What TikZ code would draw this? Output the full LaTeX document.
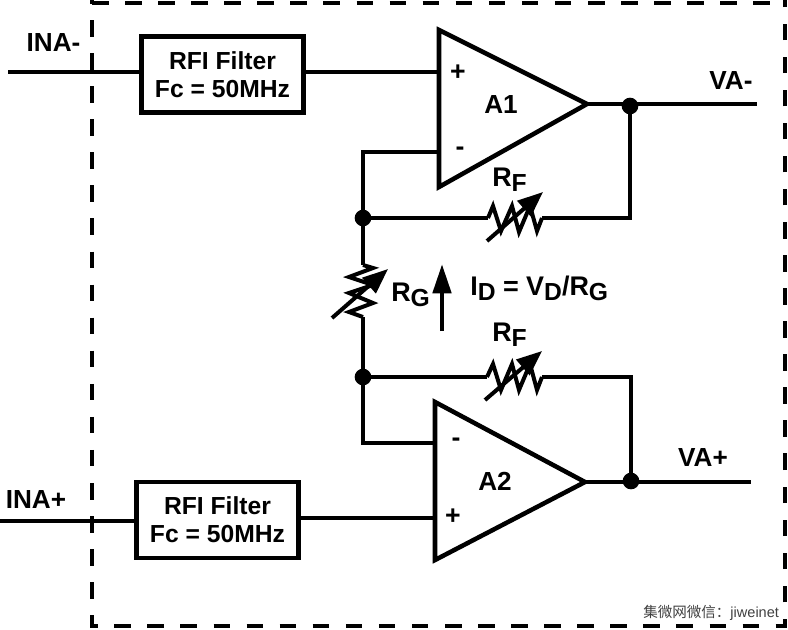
\documentclass[tikz,border=0pt]{standalone}
\usepackage{fontspec}
\setmainfont{Liberation Sans}
\newfontfamily\cjkwm{Noto Sans CJK SC}
\usetikzlibrary{arrows.meta}
\newcommand{\lowsub}[1]{\raisebox{-3.8pt}{\fontsize{18.5}{18}\selectfont #1}}
\tikzset{
  x=0.75pt,y=-0.75pt,
  wire/.style={line width=3.1pt,line cap=butt,line join=miter},
  frame/.style={line width=3.6pt,dash pattern=on 12.4pt off 12.4pt},
  filterbox/.style={draw,line width=3.6pt,minimum width=121pt,minimum height=57pt,inner sep=0pt,align=center,font=\bfseries\fontsize{18.5}{21}\selectfont},
  amp/.style={line width=3.4pt,line join=miter},
  lab/.style={inner sep=0pt,font=\bfseries\fontsize{19.6}{24}\selectfont},
  sublab/.style={inner sep=0pt,font=\bfseries\fontsize{20.2}{24}\selectfont},
  sgn/.style={inner sep=0pt,font=\bfseries\fontsize{20}{20}\selectfont},
  junction/.style={circle,fill=black,minimum size=12.5pt,inner sep=0pt,outer sep=0pt},
  resz/.style={line width=3pt,line join=miter},
  trim/.style={line width=3pt,-{Triangle[length=19pt,width=15pt]}},
  idarrow/.style={line width=3.6pt,-{Triangle[length=22pt,width=13.5pt]}}
}
\begin{document}
\begin{tikzpicture}
\useasboundingbox (0,0) rectangle (788,629);
\fill[white] (0,0) rectangle (788,629);
% frame
\draw[frame] (92,-13) -- (92,626) -- (785,626) -- (785,-13);
\draw[frame] (92,3) -- (785,3);
% filter boxes
\node[filterbox] (f1) at (222.5,74.5) {RFI Filter\\Fc = 50MHz};
\node[filterbox] (f2) at (217.5,520) {RFI Filter\\Fc = 50MHz};
% amplifiers
\coordinate (a1t) at (439,30); \coordinate (a1b) at (439,187); \coordinate (a1o) at (587,104);
\coordinate (a2t) at (435,402); \coordinate (a2b) at (435,560); \coordinate (a2o) at (585,482);
\draw[amp] (a1t) -- (a1o) -- (a1b) -- cycle;
\draw[amp] (a2t) -- (a2o) -- (a2b) -- cycle;
\node[lab] (A1) at (501,105) {A1};
\node[lab] (A2) at (495,481) {A2};
\node[sgn] (p1) at (458,73) {+};
\node[sgn] (m1) at (460,151) {-};
\node[sgn] (m2) at (456,442) {-};
\node[sgn] (p2) at (453,517) {+};
% junctions
\node[junction] (j1) at (630,106) {};
\node[junction] (j2) at (363,218) {};
\node[junction] (j3) at (363,377) {};
\node[junction] (j4) at (631,481) {};
% free ends
\coordinate (ina1) at (8,72);
\coordinate (ina2) at (0,521);
\coordinate (vam) at (757,104);
\coordinate (vap) at (751,482);
\coordinate (i1p) at (439,72);
\coordinate (i1m) at (439,152);
\coordinate (i2m) at (435,443);
\coordinate (i2p) at (435,518);
% wires
\draw[wire] (ina1) -- (ina1 -| f1.west);
\draw[wire] (ina2) -- (ina2 -| f2.west);
\draw[wire] (i1p -| f1.east) -- (i1p);
\draw[wire] (i2p -| f2.east) -- (i2p);
\draw[wire] (a1o) -- (vam);
\draw[wire] (a2o) -- (vap);
\draw[wire] (i1m) -- (i1m -| j2) -- (j2);
\draw[wire] (i2m) -- (i2m -| j3) -- (j3);
\draw[wire] (j2) -- (488,218);
\draw[wire] (j3) -- (487,377);
\draw[wire] (j2) -- (363,265);
\draw[wire] (j3) -- (363,317);
\draw[wire] (j1) -- (630,218) -- (542,218);
\draw[wire] (j4) -- (631,377) -- (542,377);
% resistors
\draw[resz] (488,218) -- (493,206) -- (501,231) -- (512,206) -- (519,232) -- (530,206) -- (537,231) -- (542,218);
\draw[resz] (487,377) -- (493,364) -- (501,390) -- (512,364) -- (519,390) -- (530,364) -- (537,390) -- (542,377);
\draw[resz] (363,265) -- (373,268) -- (349,277) -- (373,285) -- (349,293) -- (373,303) -- (349,312) -- (363,317);
\coordinate (t1a) at (487,241); \coordinate (t1b) at (543,192);
\coordinate (t2a) at (485,400); \coordinate (t2b) at (542,351);
\coordinate (t3a) at (332,318); \coordinate (t3b) at (388,269);
\draw[trim] (t1a) -- (t1b);
\draw[trim] (t2a) -- (t2b);
\draw[trim] (t3a) -- (t3b);
% current arrow
\coordinate (ida) at (442,331); \coordinate (idb) at (442,264);
\draw[idarrow] (ida) -- (idb);
% labels
\node[lab] (lina1) at (53.5,43) {INA-};
\node[lab] (lina2) at (36,499) {INA+};
\node[lab] (lvam) at (731,81) {VA-};
\node[lab] (lvap) at (703,458) {VA+};
\node[sublab,anchor=base west] (rf1) at (492,186) {R\lowsub{F}};
\node[sublab,anchor=base west] (rf2) at (492,341) {R\lowsub{F}};
\node[sublab,anchor=base west] (rg) at (391,301) {R\lowsub{G}};
\node[sublab,anchor=base west] (id) at (470,295) {I\lowsub{D} = V\lowsub{D}/R\lowsub{G}};
% watermark
\node[inner sep=0pt,anchor=base west,text=black!75,font=\fontsize{10.9}{12}\selectfont] (wm) at (643,617) {{\cjkwm 集微网微信：}jiweinet};
\end{tikzpicture}
\end{document}
